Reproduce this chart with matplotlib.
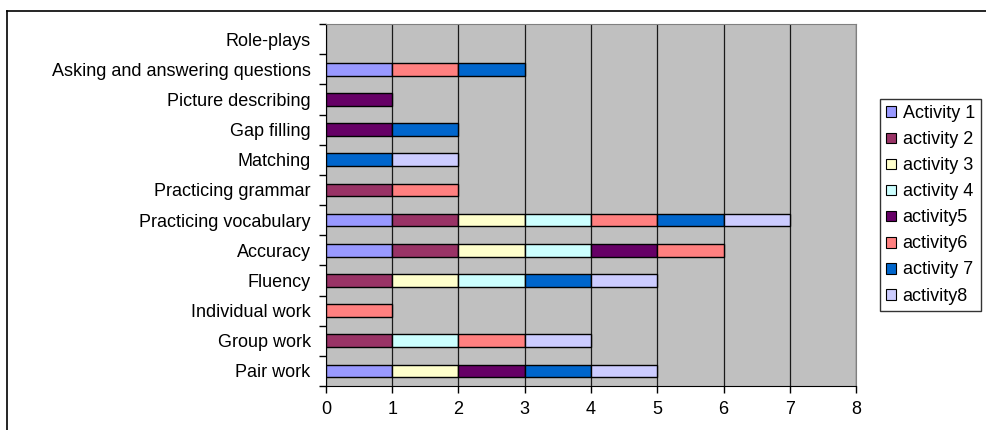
import numpy as np
import matplotlib.pyplot as plt
from matplotlib.lines import Line2D

plt.rcParams['font.family'] = ['Liberation Sans', 'DejaVu Sans']

categories = ['Pair work', 'Group work', 'Individual work', 'Fluency', 'Accuracy',
              'Practicing vocabulary', 'Practicing grammar', 'Matching', 'Gap filling',
              'Picture describing', 'Asking and answering questions', 'Role-plays']

series_names = ['Activity 1', 'activity 2', 'activity 3', 'activity 4',
                'activity5', 'activity6', 'activity 7', 'activity8']

activity1 = [1, 0, 0, 0, 1, 1, 0, 0, 0, 0, 1, 0]
activity2 = [0, 1, 0, 1, 1, 1, 1, 0, 0, 0, 0, 0]
activity3 = [1, 0, 0, 1, 1, 1, 0, 0, 0, 0, 0, 0]
activity4 = [0, 1, 0, 1, 1, 1, 0, 0, 0, 0, 0, 0]
activity5 = [1, 0, 0, 0, 1, 0, 0, 0, 1, 1, 0, 0]
activity6 = [0, 1, 1, 0, 1, 1, 1, 0, 0, 0, 1, 0]
activity7 = [1, 0, 0, 1, 0, 1, 0, 1, 1, 0, 1, 0]
activity8 = [1, 1, 0, 1, 0, 1, 0, 1, 0, 0, 0, 0]

colors = ['#9999FF', '#993366', '#FFFFCC', '#CCFFFF',
          '#660066', '#FF8080', '#0066CC', '#CCCCFF']

all_series = [activity1, activity2, activity3, activity4,
              activity5, activity6, activity7, activity8]

FS = 13

fig = plt.figure(figsize=(9.87, 4.30), dpi=100)
ax = fig.add_axes([326 / 987, 1 - 386 / 430, 530 / 987, 362 / 430])
ax.set_facecolor('#C0C0C0')

y = np.arange(len(categories))
left = np.zeros(len(categories))
handles = []
for name, vals, col in zip(series_names, all_series, colors):
    vals = np.array(vals, dtype=float)
    keep = vals > 0
    ax.barh(y[keep], vals[keep], left=left[keep], height=0.42, color=col,
            edgecolor='black', linewidth=1.0, zorder=3)
    left += vals
    handles.append(plt.Rectangle((0, 0), 1, 1, facecolor=col, edgecolor='black', linewidth=0.8))

ax.set_xlim(0, 8)
ax.set_ylim(-0.5, len(categories) - 0.5)
ax.set_xticks(range(9))
ax.tick_params(axis='x', direction='out', length=5, width=1, labelsize=FS, pad=6)
ax.grid(axis='x', color='#1a1a1a', linewidth=0.9, zorder=1)

# category names sit between the boundary ticks
ax.set_yticks(np.arange(-0.5, len(categories), 1.0))
ax.set_yticklabels([])
ax.set_yticks(y, minor=True)
ax.set_yticklabels(categories, minor=True, fontsize=FS)
ax.tick_params(axis='y', which='major', direction='out', length=5, width=1)
ax.tick_params(axis='y', which='minor', length=0, pad=11)

for side in ['top', 'right']:
    ax.spines[side].set_color('#808080')
for side in ['left', 'bottom']:
    ax.spines[side].set_color('black')

leg = fig.legend(handles, series_names, loc='upper left',
                 bbox_to_anchor=(880 / 987, 1 - 99 / 430), bbox_transform=fig.transFigure,
                 borderaxespad=0, fontsize=FS, frameon=True, fancybox=False,
                 handlelength=0.55, handleheight=0.55, handletextpad=0.35,
                 labelspacing=0.5, borderpad=0.35)
leg.get_frame().set_edgecolor('black')
leg.get_frame().set_linewidth(1.0)

# chart area border
x0, y0 = 7 / 987, 1 - 11 / 430
fig.add_artist(Line2D([x0, 1], [y0, y0], color='black', linewidth=1.2, transform=fig.transFigure))
fig.add_artist(Line2D([x0, x0], [0, y0], color='black', linewidth=1.2, transform=fig.transFigure))

fig.savefig('out.png', dpi=100)
